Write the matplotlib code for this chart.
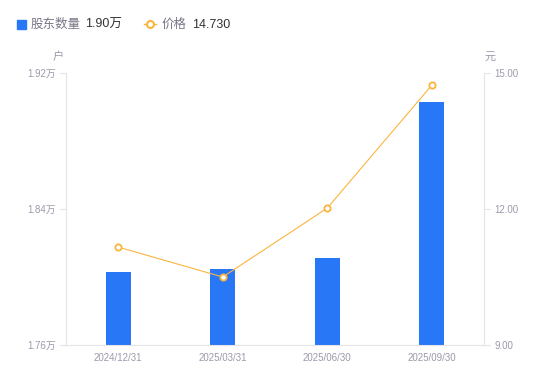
import matplotlib
matplotlib.use("Agg")
import matplotlib.pyplot as plt
from matplotlib.lines import Line2D
from matplotlib.patches import Rectangle

plt.rcParams['font.family'] = ['Liberation Sans', 'Noto Sans CJK SC']

# 数据
fechas = ['2024/12/31', '2025/03/31', '2025/06/30', '2025/09/30']
holders = [1.803, 1.805, 1.811, 1.903]   # 万户
precios = [11.16, 10.50, 12.02, 14.73]   # 元

azul = '#2777F6'
naranja = '#FBB53E'
gris = '#9A9AAB'
eje = '#E3E3E8'

fig = plt.figure(figsize=(5.5, 3.81), dpi=100)
ax = fig.add_axes([66 / 550, 36 / 381, 418 / 550, 272 / 381])
ax2 = ax.twinx()

x = range(len(fechas))
ax.bar(x, holders, width=0.24, color=azul, zorder=2)
ax.set_ylim(1.76, 1.92)
ax.set_xlim(-0.5, 3.5)
ax.set_yticks([1.76, 1.84, 1.92])
ax.set_yticklabels(['1.76万', '1.84万', '1.92万'])
ax.set_xticks(list(x))
ax.set_xticklabels(fechas)

ax2.plot(x, precios, color=naranja, lw=0.8, marker='o', ms=4.5,
         mfc='white', mec=naranja, mew=1.3, zorder=3)
ax2.set_ylim(9, 15)
ax2.set_yticks([9, 12, 15])
ax2.set_yticklabels(['9.00', '12.00', '15.00'])

for a in (ax, ax2):
    for s in a.spines.values():
        s.set_visible(False)
    a.tick_params(colors=eje, labelcolor=gris, labelsize=7, length=4, width=0.8)

ax.spines['left'].set_visible(True)
ax.spines['left'].set_color(eje)
ax.spines['bottom'].set_visible(True)
ax.spines['bottom'].set_color(eje)
ax2.spines['right'].set_visible(True)
ax2.spines['right'].set_color(eje)
ax.tick_params(axis='x', length=0, pad=6)

# unidades
fig.text(58 / 550, 1 - 57 / 381, '户', color=gris, fontsize=8, ha='center', va='center')
fig.text(490 / 550, 1 - 57 / 381, '元', color=gris, fontsize=8, ha='center', va='center')

# leyenda
ty = 1 - 28 / 381
fig.patches.append(Rectangle((17 / 550, 1 - 29 / 381), 9 / 550, 9 / 381,
                             transform=fig.transFigure, color=azul))
fig.text(31 / 550, ty, '股东数量', color='#777788', fontsize=9, va='baseline')
fig.text(85 / 550, ty, '1.90万', color='#333333', fontsize=9, va='baseline')
fig.lines.append(Line2D([144 / 550, 156 / 550], [1 - 24 / 381, 1 - 24 / 381],
                        transform=fig.transFigure, color=naranja, lw=1))
fig.lines.append(Line2D([150 / 550], [1 - 24 / 381], transform=fig.transFigure,
                        color=naranja, marker='o', ms=5, mfc='white', mew=1.5))
fig.text(162 / 550, ty, '价格', color='#777788', fontsize=9, va='baseline')
fig.text(192 / 550, ty, '14.730', color='#333333', fontsize=9, va='baseline')

fig.savefig('out.png', dpi=100)
